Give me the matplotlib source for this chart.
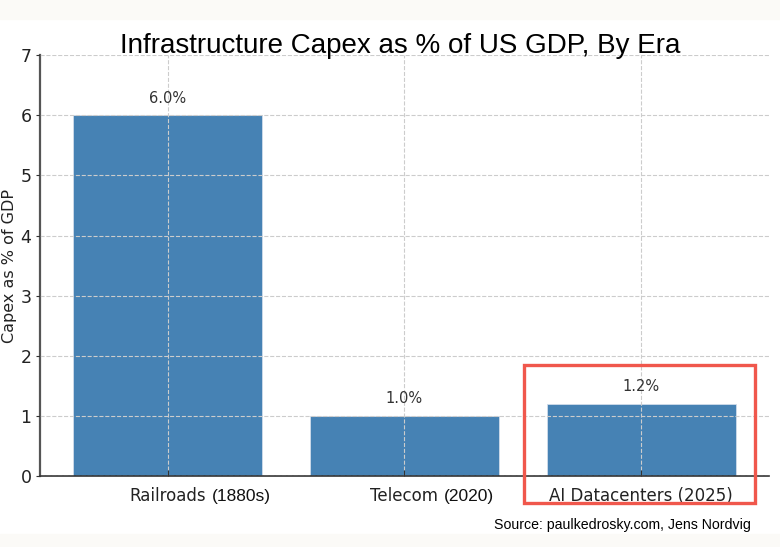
import matplotlib.pyplot as plt
from matplotlib.patches import Rectangle

# Daten
eras = ["Railroads", "Telecom", "AI Datacenters (2025)"]
era_years = ["(1880s)", "(2020)", ""]
capex_pct = [6.0, 1.0, 1.2]
bar_labels = ["6.0%", "1.0%", "1.2%"]

fig = plt.figure(figsize=(7.8, 5.47), dpi=100)
fig.patch.set_facecolor("white")

# helle Streifen oben/unten (Screenshot-Rand)
fig.patches.append(Rectangle((0, 0.966), 1, 0.034, transform=fig.transFigure,
                             color="#fbfaf7", zorder=0))
fig.patches.append(Rectangle((0, 0), 1, 0.024, transform=fig.transFigure,
                             color="#fbfaf7", zorder=0))

ax = fig.add_axes([0.051, 0.130, 0.935, 0.769])
x = range(len(eras))
ax.bar(x, capex_pct, width=0.8, color="#4682b4", edgecolor="#d0dcea",
       linewidth=0.6, zorder=2)

for xi, v, lab in zip(x, capex_pct, bar_labels):
    ax.annotate(lab, (xi, v), xytext=(0, 7), textcoords="offset points",
                ha="center", va="bottom", fontsize=10.5, color="#333333")

ax.set_ylim(0, 7)
ax.set_xticks(list(x))
ax.set_xticklabels([""] * len(eras))
# Kategorien: Name zentriert (DejaVu), Jahr rechts daneben (Arial-artig)
for xi, name, yr in zip(x, eras, era_years):
    t = ax.annotate(name, (xi, 0), xytext=(0, -8), textcoords="offset points",
                    ha="center", va="top", fontsize=12, color="#222222",
                    annotation_clip=False)
    if yr:
        ax.annotate(yr, xy=(1, 0.5), xycoords=t, xytext=(4, 0),
                    textcoords="offset points", ha="left", va="center",
                    fontsize=12.5, color="#111111", family="Liberation Sans",
                    annotation_clip=False)

ax.tick_params(axis="y", labelsize=12.5, direction="out", length=3,
               colors="#333333", labelcolor="#222222", pad=3)
ax.tick_params(axis="x", direction="in", length=4, colors="#333333")
ax.set_ylabel("Capex as % of GDP", fontsize=11.5, color="#222222")
ax.yaxis.set_label_coords(-0.031, 0.5)

ax.grid(True, linestyle="--", color="#cccccc", linewidth=0.8, zorder=3)
ax.set_axisbelow(False)
for s in ["top", "right"]:
    ax.spines[s].set_visible(False)
ax.spines["left"].set_color("#555555")
ax.spines["left"].set_linewidth(1.6)
ax.spines["bottom"].set_color("#333333")
ax.spines["bottom"].set_linewidth(1.2)

fig.text(0.513, 0.903, "Infrastructure Capex as % of US GDP, By Era",
         ha="center", va="baseline", fontsize=20, family="Liberation Sans")

# roter Rahmen um den letzten Balken
hl = Rectangle((2 - 0.495, -0.45), 0.975, 2.3, fill=False, edgecolor="#f0574c",
               linewidth=2.4, clip_on=False, zorder=5)
ax.add_patch(hl)

fig.text(0.963, 0.033, "Source: paulkedrosky.com, Jens Nordvig", ha="right",
         va="baseline", fontsize=10.2, family="Liberation Sans")

plt.savefig("out.png", dpi=100)
